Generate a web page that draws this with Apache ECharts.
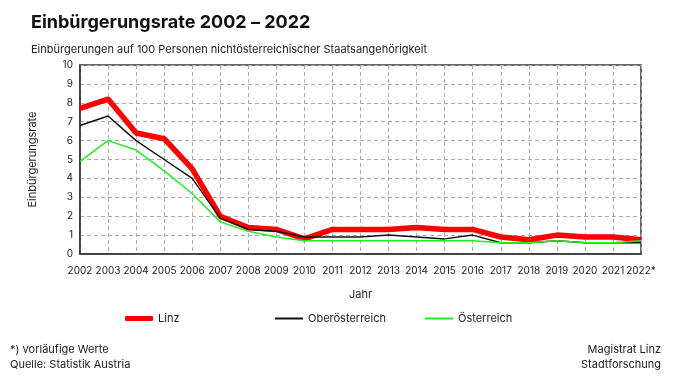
<!DOCTYPE html>
<html>
<head>
<meta charset="utf-8">
<script src="https://cdn.jsdelivr.net/npm/echarts@6/dist/echarts.min.js"></script>
<style>
  html, body { margin: 0; padding: 0; background: #fff; }
  #chart { width: 680px; height: 377px; }
</style>
</head>
<body>
<div id="chart"></div>
<script>
// Jahre (2022 vorläufig)
const years = ["2002", "2003", "2004", "2005", "2006", "2007", "2008", "2009", "2010", "2011",
  "2012", "2013", "2014", "2015", "2016", "2017", "2018", "2019", "2020", "2021", "2022*"]

const linz = [7.7, 8.2, 6.4, 6.1, 4.5, 2.0, 1.4, 1.3, 0.8, 1.3, 1.3, 1.3, 1.4, 1.3, 1.3, 0.9, 0.75, 1.0, 0.9, 0.9, 0.75]
const ooe = [6.8, 7.3, 6.0, 5.0, 4.0, 1.9, 1.3, 1.2, 0.9, 0.9, 0.9, 1.0, 0.9, 0.8, 1.0, 0.6, 0.6, 0.7, 0.6, 0.6, 0.6]
const oesterreich = [4.9, 6.0, 5.5, 4.4, 3.2, 1.7, 1.2, 0.9, 0.7, 0.7, 0.7, 0.7, 0.7, 0.7, 0.7, 0.6, 0.6, 0.7, 0.6, 0.6, 0.7]

const FONT = "Inter"
const chart = echarts.init(document.getElementById("chart"))

const legendBase = {
  top: 308,
  itemWidth: 28,
  textStyle: { fontFamily: FONT, fontSize: 11, color: "#222" },
  selectedMode: false,
}

const noteStyle = { fontFamily: FONT, fontSize: 11, fontWeight: "normal", color: "#222" }

const option = {
  animation: false,
  textStyle: { fontFamily: FONT },
  title: [
    {
      text: "Einbürgerungsrate 2002 – 2022",
      left: 26,
      top: 9,
      textStyle: { fontFamily: FONT, fontSize: 18, fontWeight: "bold", color: "#111" },
    },
    {
      text: "Einbürgerungen auf 100 Personen nichtösterreichischer Staatsangehörigkeit",
      left: 26,
      top: 39,
      textStyle: noteStyle,
    },
    { text: "*) vorläufige Werte", left: 10, top: 344, padding: 0, textStyle: noteStyle },
    { text: "Quelle: Statistik Austria", left: 10, top: 359, padding: 0, textStyle: noteStyle },
    { text: "Magistrat Linz", right: 19, top: 344, padding: 0, textStyle: noteStyle },
    { text: "Stadtforschung", right: 19, top: 359, padding: 0, textStyle: noteStyle },
  ],
  legend: [
    { ...legendBase, left: 120, data: [{ name: "Linz", icon: "roundRect" }], itemHeight: 5 },
    { ...legendBase, left: 270, data: [{ name: "Oberösterreich", icon: "rect" }], itemHeight: 2 },
    { ...legendBase, left: 420, data: [{ name: "Österreich", icon: "rect" }], itemHeight: 2 },
  ],
  grid: {
    left: 80,
    right: 39,
    top: 65,
    bottom: 123,
    show: true,
    borderColor: "#333",
    borderWidth: 1.5,
  },
  xAxis: {
    type: "category",
    data: years,
    boundaryGap: false,
    name: "Jahr",
    nameLocation: "middle",
    nameGap: 35,
    nameTextStyle: { fontFamily: FONT, fontSize: 11, color: "#222" },
    axisLine: { show: true, lineStyle: { color: "#333", width: 1.5 } },
    axisTick: { show: false },
    axisLabel: { interval: 0, fontFamily: FONT, fontSize: 10, color: "#222", margin: 12 },
    splitLine: { show: true, lineStyle: { color: "#aaa", type: [4, 3], width: 1 } },
  },
  yAxis: {
    type: "value",
    min: 0,
    max: 10,
    interval: 1,
    name: "Einbürgerungsrate",
    nameLocation: "middle",
    nameGap: 42,
    nameTextStyle: { fontFamily: FONT, fontSize: 11, color: "#222" },
    axisLine: { show: true, lineStyle: { color: "#333", width: 1.5 } },
    axisTick: { show: false },
    axisLabel: { fontFamily: FONT, fontSize: 10, color: "#222", margin: 7 },
    splitLine: { show: true, lineStyle: { color: "#aaa", type: [4, 3], width: 1 } },
  },
  series: [
    {
      name: "Linz",
      type: "line",
      data: linz,
      showSymbol: false,
      lineStyle: { color: "#ff0000", width: 5.5 },
      itemStyle: { color: "#ff0000" },
      z: 1,
    },
    {
      name: "Oberösterreich",
      type: "line",
      data: ooe,
      showSymbol: false,
      lineStyle: { color: "#111", width: 1.5 },
      itemStyle: { color: "#111" },
      z: 2,
    },
    {
      name: "Österreich",
      type: "line",
      data: oesterreich,
      showSymbol: false,
      lineStyle: { color: "#22ee22", width: 1.5 },
      itemStyle: { color: "#22ee22" },
      z: 3,
    },
  ],
}

chart.setOption(option)
</script>
</body>
</html>
